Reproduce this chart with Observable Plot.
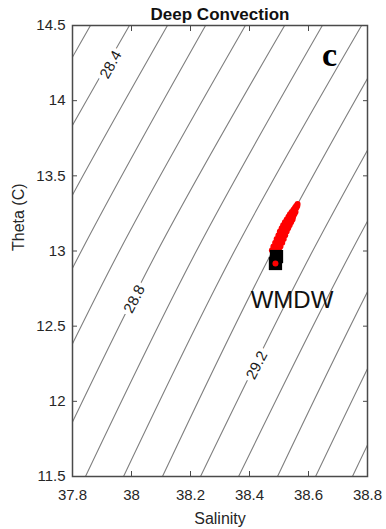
<!DOCTYPE html>
<html><head><meta charset="utf-8">
<script src="https://cdn.jsdelivr.net/npm/d3@7"></script>
<script src="https://cdn.jsdelivr.net/npm/@observablehq/plot@0.6"></script>
<style>body{margin:0;background:#fff}</style>
</head><body><div id="chart"></div>
<script>
// Tick labels
const xTicks = [37.8, 38, 38.2, 38.4, 38.6, 38.8];
const yTicks = [11.5, 12, 12.5, 13, 13.5, 14, 14.5];

// Isopycnals (sigma-theta): salinity at theta = 11.5, 13, 14.5
const sigmaLevels = [28.3, 28.4, 28.5, 28.6, 28.7, 28.8, 28.9, 29.0, 29.1, 29.2, 29.3, 29.4, 29.5, 29.6];
const contourTheta = [11.5, 13, 14.5];
const salAt115 = [37.061, 37.190, 37.322, 37.454, 37.583, 37.712, 37.844, 37.973, 38.105, 38.234, 38.363, 38.495, 38.624, 38.749];
const salAt130 = [37.437, 37.566, 37.698, 37.830, 37.959, 38.088, 38.220, 38.349, 38.478, 38.614, 38.746, 38.871, 39.000, 39.125];
const salAt145 = [37.861, 37.993, 38.122, 38.251, 38.386, 38.519, 38.647, 38.780, 38.902, 39.038, 39.170, 39.295, 39.424, 39.549];

// Contour labels
const labelLevels = ["28.4", "28.8", "29.2"];
const labelSal = [37.93, 38.01, 38.425];
const labelTheta = [14.24, 12.68, 12.24];
const labelAngle = [-61, -63, -63];

// Red model track
const redSal = [38.476, 38.484, 38.492, 38.500,
                38.481, 38.489, 38.497, 38.505,
                38.487, 38.495, 38.503, 38.511,
                38.492, 38.500, 38.508, 38.516,
                38.498, 38.506, 38.514, 38.521,
                38.503, 38.511, 38.519, 38.526,
                38.509, 38.517, 38.524, 38.531,
                38.514, 38.522, 38.530, 38.536,
                38.520, 38.528, 38.535, 38.541,
                38.526, 38.533, 38.540, 38.546,
                38.532, 38.540, 38.548,
                38.537, 38.545, 38.552,
                38.543, 38.550, 38.556,
                38.549, 38.555,
                38.554, 38.559,
                38.558, 38.562,
                38.563];
const redTheta = [13.005, 13.005, 13.005, 13.005,
                  13.030, 13.030, 13.030, 13.030,
                  13.055, 13.055, 13.055, 13.055,
                  13.080, 13.080, 13.080, 13.080,
                  13.105, 13.105, 13.105, 13.105,
                  13.130, 13.130, 13.130, 13.130,
                  13.152, 13.152, 13.152, 13.152,
                  13.172, 13.172, 13.172, 13.172,
                  13.192, 13.192, 13.192, 13.192,
                  13.210, 13.210, 13.210, 13.210,
                  13.228, 13.228, 13.228,
                  13.245, 13.245, 13.245,
                  13.260, 13.260, 13.260,
                  13.275, 13.275,
                  13.288, 13.288,
                  13.300, 13.300,
                  13.313];

// WMDW observations (black squares) and final red point
const wmdwSal = [38.4915, 38.488];
const wmdwTheta = [12.963, 12.917];
const coreSal = [38.488];
const coreTheta = [12.917];

const contours = [];
sigmaLevels.forEach((lv, i) => {
  const sals = [salAt115[i], salAt130[i], salAt145[i]];
  contourTheta.forEach((t, j) => contours.push({level: lv, S: sals[j], T: t}));
});
const labels = labelLevels.map((t, i) => ({text: t, S: labelSal[i], T: labelTheta[i], angle: labelAngle[i]}));
const red = redSal.map((s, i) => ({S: s, T: redTheta[i]}));
const wmdw = wmdwSal.map((s, i) => ({S: s, T: wmdwTheta[i]}));
const core = coreSal.map((s, i) => ({S: s, T: coreTheta[i]}));

const axisColor = "#4a4a4a";
const fmt = d => String(d);

const chart = Plot.plot({
  width: 386, height: 529,
  marginTop: 25, marginRight: 19, marginBottom: 53, marginLeft: 72,
  style: {fontFamily: "'Liberation Sans', Arial, sans-serif", fontSize: "15px", color: "#262626", background: "white"},
  x: {domain: [37.8, 38.8]},
  y: {domain: [11.5, 14.5]},
  marks: [
    Plot.line(contours, {x: "S", y: "T", z: "level", stroke: "#7f7f7f", strokeWidth: 1.1, curve: "natural", clip: true}),
    Plot.text(labels, {x: "S", y: "T", text: "text", rotate: "angle", fontSize: 15, fill: "#1a1a1a", stroke: "white", strokeWidth: 8}),
    Plot.dot(red, {x: "S", y: "T", r: 3, fill: "#ff0000"}),
    Plot.dot(wmdw, {x: "S", y: "T", symbol: "square", r: 7.5, fill: "black"}),
    Plot.dot(core, {x: "S", y: "T", r: 3, fill: "#ff0000"}),
    Plot.text(["WMDW"], {x: 38.544, y: 12.671, text: d => d, fontSize: 24, fill: "#111", textAnchor: "middle"}),
    Plot.text(["c"], {x: 38.671, y: 14.30, text: d => d, fontSize: 34, fontWeight: "bold", fontFamily: "'Liberation Serif', 'Times New Roman', serif", fill: "black"}),
    Plot.frame({stroke: axisColor, strokeWidth: 1.5}),
    Plot.axisX(xTicks, {anchor: "bottom", tickSize: 0, tickPadding: 13, tickFormat: fmt, fontSize: 15, label: null, fill: "#262626"}),
    Plot.axisX(xTicks, {anchor: "bottom", tickSize: -5, text: null, label: null, stroke: axisColor}),
    Plot.axisX(xTicks, {anchor: "top", tickSize: -5, text: null, label: null, stroke: axisColor}),
    Plot.axisY(yTicks, {anchor: "left", tickSize: 0, tickPadding: 7, tickFormat: fmt, fontSize: 15, label: null, fill: "#262626"}),
    Plot.axisY(yTicks, {anchor: "left", tickSize: -5, text: null, label: null, stroke: axisColor}),
    Plot.axisY(yTicks, {anchor: "right", tickSize: -5, text: null, label: null, stroke: axisColor}),
    Plot.text(["Deep Convection"], {frameAnchor: "top", dy: -11, lineAnchor: "middle", text: d => d, fontSize: 17, fontWeight: "bold", fill: "#111"}),
    Plot.text(["Salinity"], {frameAnchor: "bottom", dy: 42, lineAnchor: "middle", text: d => d, fontSize: 16, fill: "#262626"}),
    Plot.text(["Theta (C)"], {frameAnchor: "left", dx: -54, rotate: -90, lineAnchor: "middle", text: d => d, fontSize: 16, fill: "#262626"})
  ]
});
document.getElementById("chart").appendChild(chart);
</script>
</body></html>
